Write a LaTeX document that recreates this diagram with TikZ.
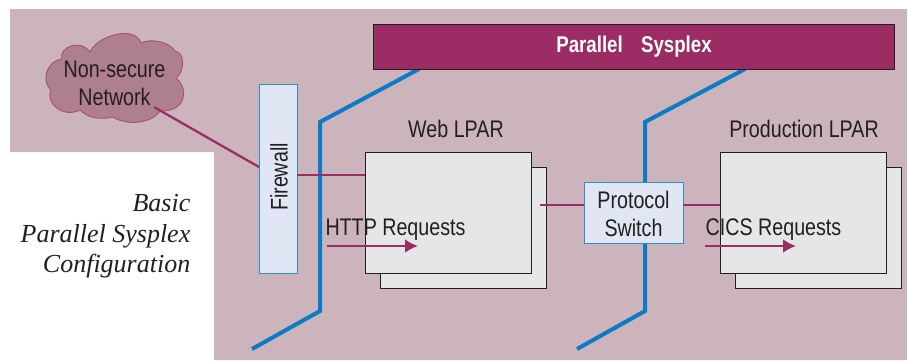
\documentclass[tikz,border=0pt]{standalone}
\usepackage{fontspec}
\setmainfont{Liberation Serif}
\newfontfamily\condsans[FakeStretch=0.82]{Liberation Sans}
\definecolor{bgpink}{HTML}{CBB4BB}
\definecolor{cloudfill}{HTML}{AE7F8E}
\definecolor{plum}{HTML}{9B2C64}
\definecolor{wireblue}{HTML}{0A7BC4}
\definecolor{palebox}{HTML}{E0E6F4}
\definecolor{lparfill}{HTML}{E5E6E8}
\definecolor{inkdark}{HTML}{231F20}
\tikzset{
  lparbox/.style={draw=inkdark,fill=lparfill,line width=1.1pt,minimum width=166pt,minimum height=121pt,inner sep=0pt,anchor=north west},
  devicebox/.style={draw=wireblue!85,fill=palebox,line width=1.2pt,inner sep=0pt,anchor=north west},
  wire/.style={draw=plum,line width=2.3pt},
  flow/.style={draw=plum,line width=2.6pt,-{Latex[length=13pt,width=14pt]}},
  lan/.style={draw=wireblue,line width=4pt,line join=miter},
  label/.style={text=inkdark,font=\condsans\fontsize{24}{28}\selectfont,align=center,inner sep=0pt},
}
\usetikzlibrary{arrows.meta}
\begin{document}
\begin{tikzpicture}[x=1pt,y=-1pt]
\useasboundingbox (0,0) rectangle (909,360);
\fill[bgpink] (10,9) -- (907,9) -- (907,360) -- (214,360) -- (214,152) -- (10,152) -- cycle;
% coordinates
\coordinate (lanAa) at (419,69);
\coordinate (lanAb) at (320,122);
\coordinate (lanAc) at (320,311);
\coordinate (lanAd) at (252,349);
\coordinate (lanBa) at (745,69);
\coordinate (lanBb) at (645,122);
\coordinate (lanBc) at (645,311);
\coordinate (lanBd) at (577,349);
\coordinate (cloudport) at (154,107);
\coordinate (fwin) at (259,167);
\coordinate (fwout) at (297,175);
\coordinate (webin) at (365,175);
\coordinate (webout) at (540,205);
\coordinate (switchin) at (584,205);
\coordinate (switchout) at (683,205);
\coordinate (prodin) at (720,205);
\coordinate (httpa) at (327,246);
\coordinate (httpb) at (418,246);
\coordinate (cicsa) at (705,246);
\coordinate (cicsb) at (796,246);
% cloud
\draw[draw=plum!85,fill=cloudfill,line width=0.9pt]
  (62,59) .. controls (58,48) and (80,38) .. (90,52)
  .. controls (98,35) and (135,25) .. (141,43)
  .. controls (150,38) and (170,42) .. (175,51)
  .. controls (185,52) and (185,72) .. (176,78)
  .. controls (190,90) and (185,112) .. (160,111)
  .. controls (150,125) and (125,125) .. (113,117)
  .. controls (100,120) and (88,118) .. (80,110)
  .. controls (65,118) and (45,105) .. (51,90)
  .. controls (40,80) and (48,60) .. (62,59) -- cycle;
\node[label] (cloud) at (114.5,83.5) {Non-secure\\[-0.5pt]Network};
% LPAR boxes
\node[lparbox] (webback) at (380,167) {};
\node[lparbox] (web) at (365,152) {};
\node[lparbox] (prodback) at (735,167) {};
\node[lparbox] (prod) at (720,152) {};
% LAN lines
\draw[lan] (lanAa) -- (lanAb) -- (lanAc) -- (lanAd);
\draw[lan] (lanBa) -- (lanBb) -- (lanBc) -- (lanBd);
% sysplex bar
\node[draw=inkdark,fill=plum,line width=1pt,minimum width=521pt,minimum height=45pt,inner sep=0pt,anchor=north west,text=white,font=\condsans\bfseries\fontsize{22.8}{28}\selectfont] (sysplex) at (373,24) {Parallel\hspace{0.8em}Sysplex};
% devices
\node[devicebox,minimum width=37.5pt,minimum height=189pt] (fw) at (259,84) {};
\node[label,rotate=90] (fwtext) at (279,177) {Firewall};
\node[devicebox,minimum width=98.5pt,minimum height=61pt] (switch) at (584,182) {};
\node[label] (switchtext) at (633.5,214) {Protocol\\[-0.5pt]Switch};
% connectors
\draw[wire] (cloudport) -- (fwin);
\draw[wire] (fwout) -- (webin);
\draw[wire] (webout) -- (switchin);
\draw[wire] (switchout) -- (prodin);
% headings
\node[label] (weblabel) at (456,129) {Web LPAR};
\node[label] (prodlabel) at (804,129) {Production LPAR};
\node[label] (httplabel) at (395.5,229.5) {HTTP Requests};
\node[label] (cicslabel) at (773.5,229.5) {CICS Requests};
\draw[flow] (httpa) -- (httpb);
\draw[flow] (cicsa) -- (cicsb);
\node[align=right,anchor=north east,inner sep=0pt,text=inkdark,font=\itshape\fontsize{26}{30.5}\selectfont] (caption) at (190.5,194.5) {Basic\\Parallel Sysplex\\Configuration};
\end{tikzpicture}
\end{document}
